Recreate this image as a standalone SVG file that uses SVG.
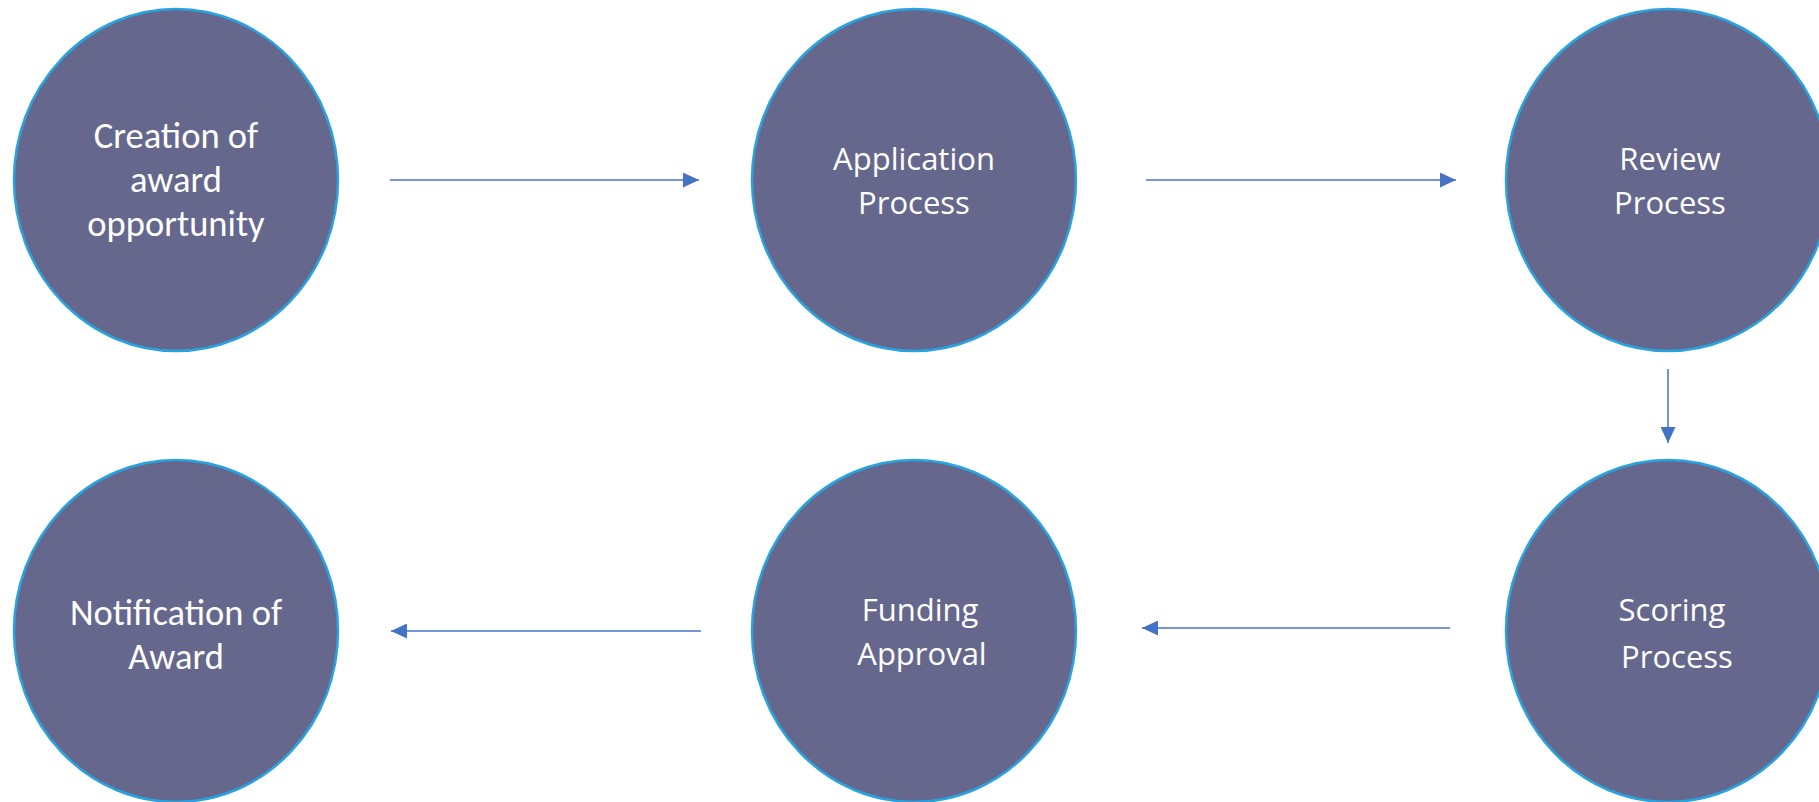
<svg xmlns="http://www.w3.org/2000/svg" width="1819" height="802" viewBox="0 0 1819 802">
<style>
.node{fill:#65688C;stroke:#29A3E0;stroke-width:2.5}
.t1{font-family:Carlito,"Liberation Sans",sans-serif;font-size:36.5px;fill:#fff;text-anchor:middle}
.t2{font-family:"Open Sans","Noto Sans",sans-serif;font-size:31px;fill:#fff;text-anchor:middle}
.conn{stroke:#4472C4;stroke-width:1.5;fill:none;marker-end:url(#ah)}
</style>
<defs>
<marker id="ah" markerWidth="16" markerHeight="15" refX="16" refY="7.5" orient="auto" markerUnits="userSpaceOnUse">
<path d="M0,0 L16,7.5 L0,15 Z" fill="#4472C4"/>
</marker>
</defs>
<rect width="1819" height="802" fill="#fff"/>
<g id="creation">
<ellipse class="node" cx="176" cy="180" rx="162" ry="171"/>
<text class="t1" x="176" y="148">Creation of</text>
<text class="t1" x="176" y="192">award</text>
<text class="t1" x="176" y="236">opportunity</text>
</g>
<g id="application">
<ellipse class="node" cx="914" cy="180" rx="162" ry="171"/>
<text class="t2" x="914" y="170">Application</text>
<text class="t2" x="914" y="214">Process</text>
</g>
<g id="review">
<ellipse class="node" cx="1668" cy="180" rx="162" ry="171"/>
<text class="t2" x="1670" y="170">Review</text>
<text class="t2" x="1670" y="214">Process</text>
</g>
<g id="scoring">
<ellipse class="node" cx="1668" cy="631" rx="162" ry="171"/>
<text class="t2" x="1672" y="621">Scoring</text>
<text class="t2" x="1677" y="668">Process</text>
</g>
<g id="funding">
<ellipse class="node" cx="914" cy="631" rx="162" ry="171"/>
<text class="t2" x="920" y="621">Funding</text>
<text class="t2" x="922" y="665">Approval</text>
</g>
<g id="notification">
<ellipse class="node" cx="176" cy="631" rx="162" ry="171"/>
<text class="t1" x="176" y="625">Notification of</text>
<text class="t1" x="176" y="669">Award</text>
</g>
<g id="connectors">
<line class="conn" x1="390" y1="180" x2="699" y2="180"/>
<line class="conn" x1="1146" y1="180" x2="1456" y2="180"/>
<line class="conn" x1="1668" y1="369" x2="1668" y2="443"/>
<line class="conn" x1="1450" y1="628" x2="1142" y2="628"/>
<line class="conn" x1="701" y1="631" x2="391" y2="631"/>
</g>
</svg>
